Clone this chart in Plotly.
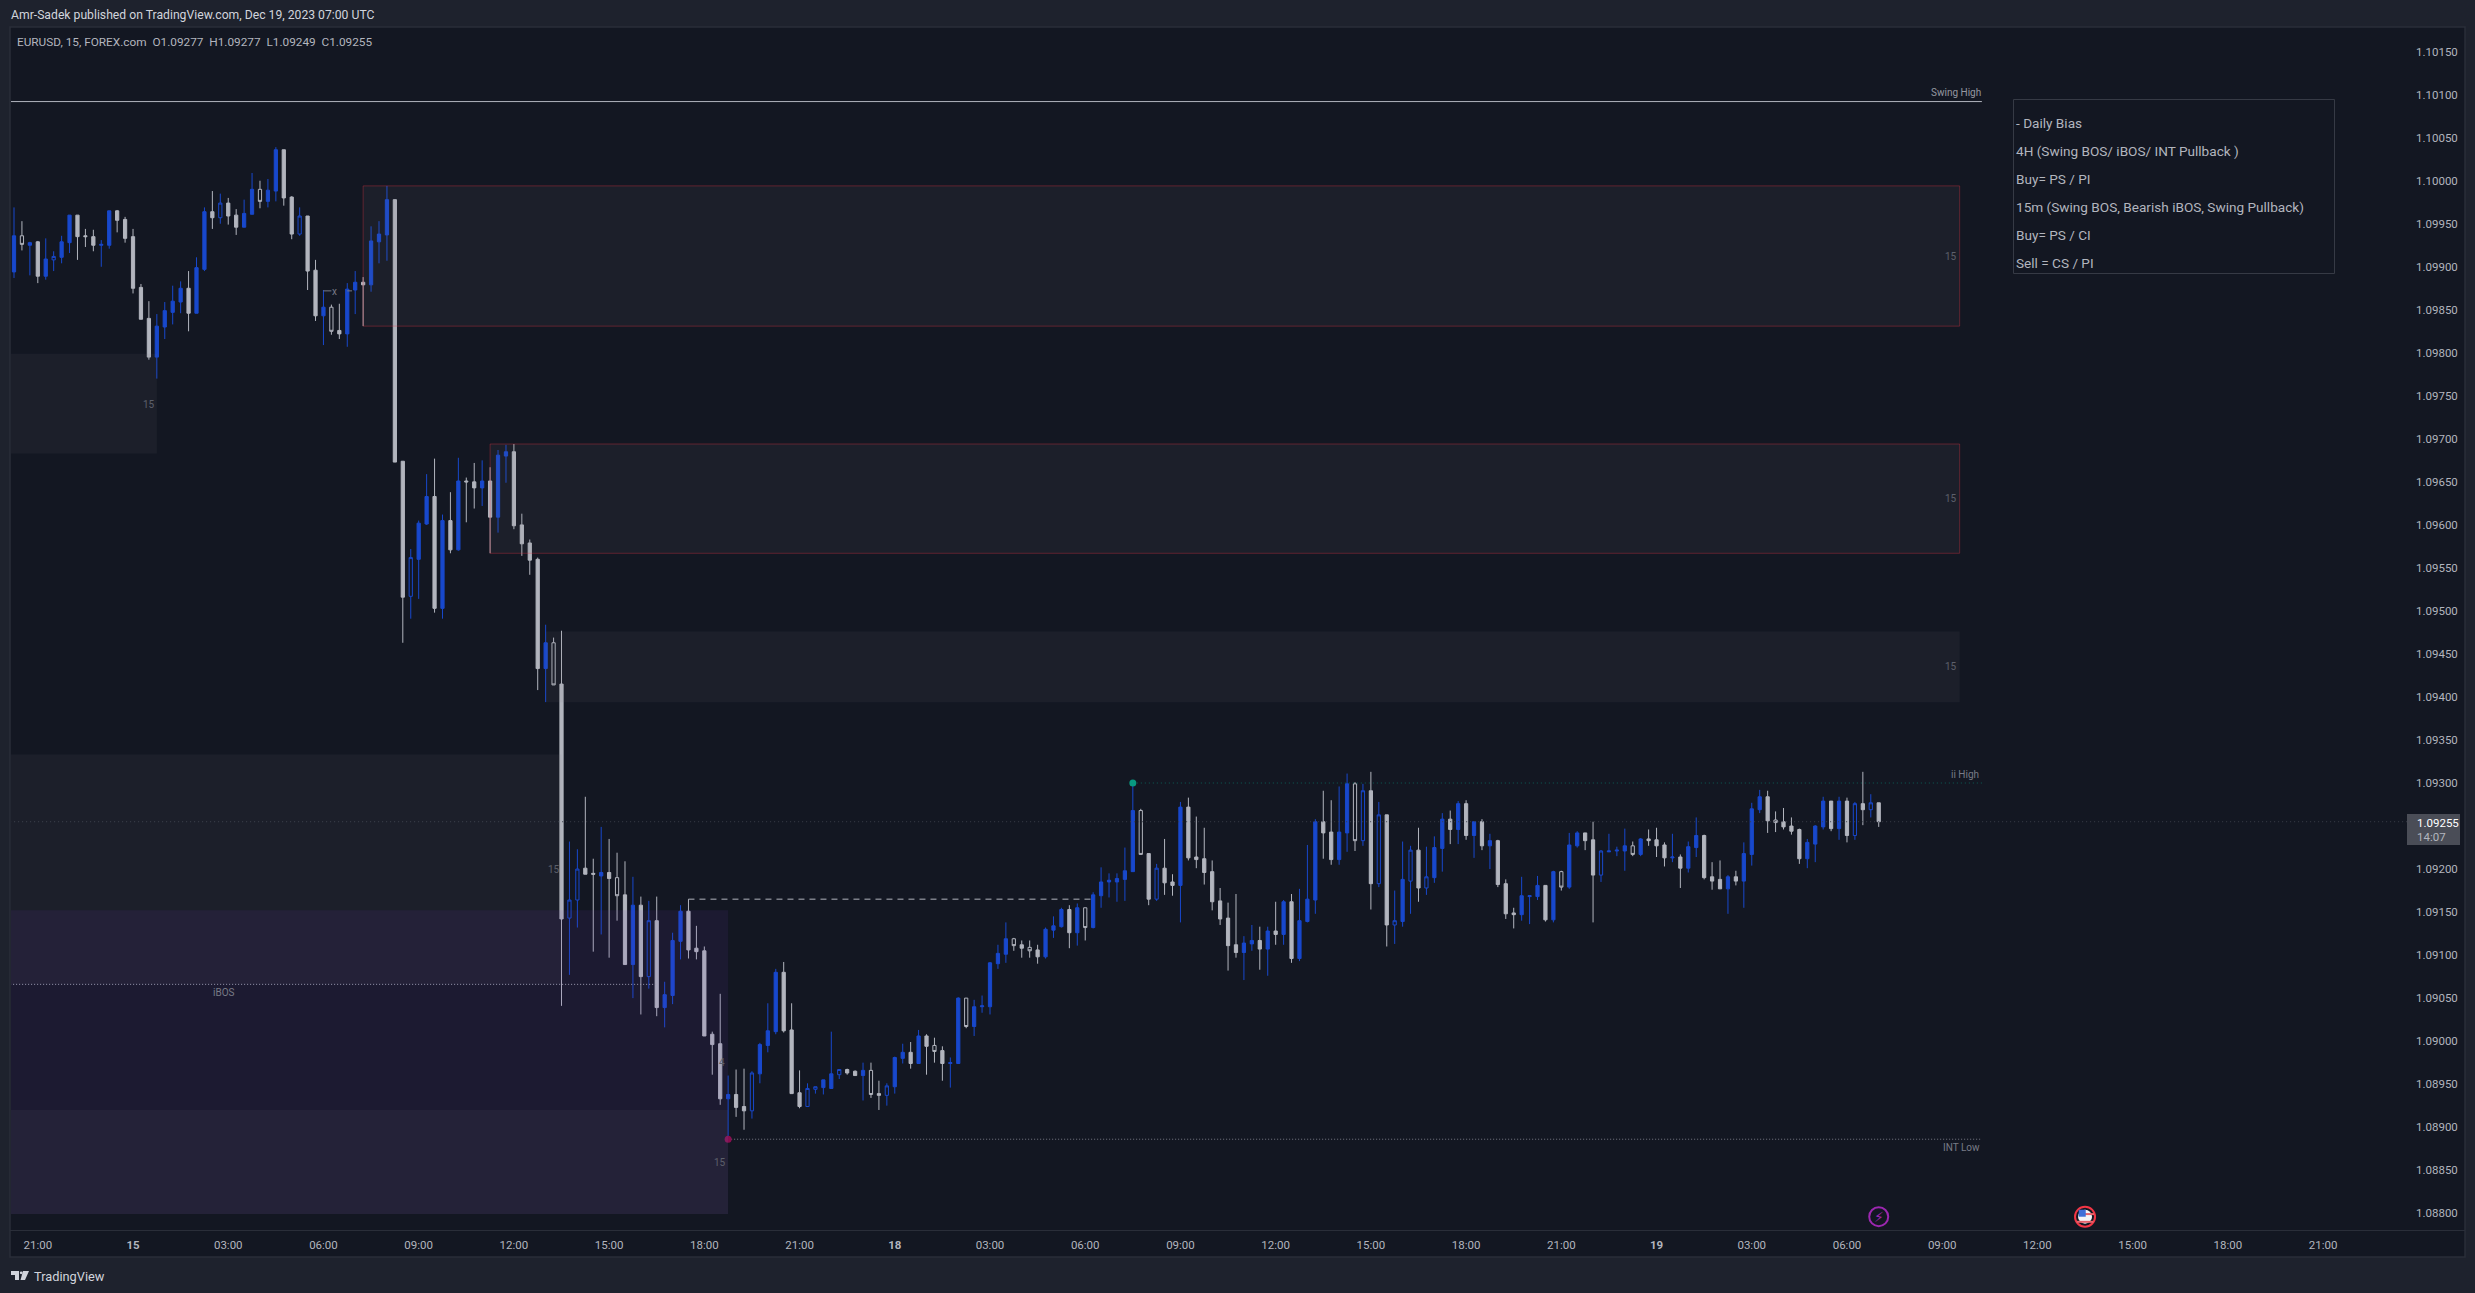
import plotly.graph_objects as go

# ---------- bar series (15-minute EURUSD, oldest first) ----------
open_ = [
1.09894,1.09936,1.09925,1.09929,1.09889,1.09908,1.09911,1.09928,1.09960,1.09936,
1.09935,1.09925,1.09925,1.09965,1.09955,1.09935,1.09876,1.09840,1.09795,1.09830,
1.09847,1.09859,1.09875,1.09846,1.09897,1.09964,1.09957,1.09974,1.09960,1.09946,
1.09961,1.09990,1.09976,1.09988,1.10036,1.09981,1.09938,1.09959,1.09896,1.09843,
1.09853,1.09826,1.09822,1.09873,1.09882,1.09879,1.09929,1.09937,1.09978,1.09674,
1.09517,1.09560,1.09601,1.09633,1.09503,1.09605,1.09571,1.09651,1.09650,1.09643,
1.09651,1.09609,1.09680,1.09685,1.09600,1.09579,1.09560,1.09433,1.09463,1.09415,
1.09143,1.09164,1.09201,1.09195,1.09192,1.09196,1.09190,1.09170,1.09089,1.09158,
1.09075,1.09140,1.09039,1.09053,1.09116,1.09151,1.09108,1.09105,1.09008,1.08997,
1.08933,1.08938,1.08924,1.08919,1.08962,1.08995,1.09011,1.09080,1.09013,1.08940,
1.08924,1.08944,1.08946,1.08945,1.08961,1.08967,1.08965,1.08960,1.08966,1.08939,
1.08937,1.08947,1.08980,1.08987,1.08974,1.09006,1.08995,1.08989,1.08974,1.08974,
1.09050,1.09017,1.09040,1.09040,1.09090,1.09101,1.09119,1.09112,1.09109,1.09106,
1.09098,1.09129,1.09133,1.09153,1.09126,1.09155,1.09132,1.09169,1.09185,1.09185,
1.09188,1.09197,1.09268,1.09218,1.09165,1.09201,1.09185,1.09181,1.09272,1.09214,
1.09212,1.09197,1.09163,1.09143,1.09112,1.09103,1.09113,1.09117,1.09107,1.09128,
1.09124,1.09162,1.09096,1.09139,1.09164,1.09255,1.09243,1.09211,1.09242,1.09299,
1.09233,1.09291,1.09183,1.09263,1.09135,1.09139,1.09186,1.09222,1.09178,1.09190,
1.09224,1.09258,1.09246,1.09276,1.09239,1.09255,1.09227,1.09233,1.09183,1.09149,
1.09147,1.09168,1.09168,1.09181,1.09141,1.09197,1.09179,1.09227,1.09242,1.09234,
1.09193,1.09220,1.09221,1.09221,1.09227,1.09217,1.09235,1.09234,1.09228,1.09213,
1.09214,1.09201,1.09225,1.09239,1.09191,1.09188,1.09177,1.09191,1.09186,1.09217,
1.09269,1.09284,1.09257,1.09255,1.09250,1.09246,1.09212,1.09229,1.09249,1.09279,
1.09247,1.09279,1.09239,1.09276,1.09269,1.09277]
high = [
1.09969,1.09953,1.09929,1.09930,1.09933,1.09918,1.09936,1.09960,1.09960,1.09944,
1.09943,1.09931,1.09965,1.09966,1.09958,1.09944,1.09880,1.09860,1.09845,1.09859,
1.09878,1.09883,1.09895,1.09911,1.09969,1.09988,1.09985,1.09980,1.09967,1.09978,
1.10009,1.10000,1.10002,1.10039,1.10036,1.09982,1.09969,1.09959,1.09908,1.09873,
1.09856,1.09857,1.09881,1.09895,1.09888,1.09947,1.09953,1.09994,1.09978,1.09674,
1.09572,1.09605,1.09659,1.09677,1.09612,1.09638,1.09678,1.09655,1.09672,1.09675,
1.09667,1.09687,1.09693,1.09694,1.09613,1.09583,1.09562,1.09484,1.09469,1.09477,
1.09232,1.09223,1.09284,1.09212,1.09249,1.09235,1.09219,1.09209,1.09191,1.09168,
1.09163,1.09168,1.09069,1.09126,1.09158,1.09165,1.09134,1.09110,1.09011,1.09055,
1.08960,1.08967,1.08968,1.08965,1.08998,1.09044,1.09084,1.09092,1.09044,1.08966,
1.08951,1.08947,1.08955,1.09011,1.08967,1.08968,1.08966,1.08975,1.08975,1.08954,
1.08951,1.08982,1.08997,1.08999,1.09013,1.09008,1.09004,1.08994,1.08981,1.09051,
1.09050,1.09048,1.09053,1.09092,1.09112,1.09138,1.09120,1.09117,1.09117,1.09112,
1.09132,1.09145,1.09155,1.09158,1.09160,1.09155,1.09173,1.09202,1.09195,1.09195,
1.09225,1.09299,1.09270,1.09218,1.09206,1.09235,1.09194,1.09278,1.09283,1.09261,
1.09248,1.09210,1.09178,1.09161,1.09171,1.09122,1.09135,1.09133,1.09133,1.09162,
1.09164,1.09171,1.09177,1.09228,1.09258,1.09291,1.09280,1.09296,1.09311,1.09301,
1.09299,1.09313,1.09278,1.09263,1.09175,1.09232,1.09227,1.09248,1.09226,1.09238,
1.09265,1.09268,1.09279,1.09280,1.09255,1.09258,1.09241,1.09234,1.09188,1.09155,
1.09191,1.09169,1.09192,1.09181,1.09198,1.09198,1.09242,1.09244,1.09242,1.09255,
1.09222,1.09241,1.09226,1.09247,1.09232,1.09236,1.09246,1.09248,1.09231,1.09241,
1.09217,1.09232,1.09260,1.09240,1.09208,1.09210,1.09193,1.09198,1.09231,1.09277,
1.09292,1.09291,1.09267,1.09271,1.09260,1.09247,1.09235,1.09251,1.09284,1.09279,
1.09284,1.09283,1.09278,1.09313,1.09287,1.09277]
low = [
1.09887,1.09919,1.09890,1.09881,1.09885,1.09895,1.09904,1.09916,1.09908,1.09923,
1.09918,1.09900,1.09921,1.09940,1.09928,1.09869,1.09839,1.09792,1.09770,1.09816,
1.09833,1.09846,1.09825,1.09846,1.09895,1.09944,1.09950,1.09949,1.09937,1.09946,
1.09961,1.09968,1.09969,1.09976,1.09971,1.09932,1.09936,1.09873,1.09837,1.09809,
1.09821,1.09816,1.09807,1.09845,1.09831,1.09871,1.09904,1.09907,1.09673,1.09463,
1.09491,1.09514,1.09600,1.09498,1.09491,1.09567,1.09570,1.09603,1.09619,1.09622,
1.09567,1.09591,1.09649,1.09595,1.09564,1.09542,1.09408,1.09394,1.09414,1.09041,
1.09077,1.09132,1.09194,1.09104,1.09124,1.09097,1.09140,1.09089,1.09050,1.09031,
1.09061,1.09029,1.09016,1.09043,1.09095,1.09096,1.09095,1.09006,1.08961,1.08926,
1.08887,1.08912,1.08897,1.08910,1.08951,1.08987,1.09008,1.09010,1.08939,1.08922,
1.08924,1.08939,1.08938,1.08945,1.08956,1.08961,1.08960,1.08931,1.08934,1.08920,
1.08925,1.08939,1.08974,1.08968,1.08974,1.08961,1.08975,1.08954,1.08946,1.08974,
1.09015,1.09006,1.09033,1.09031,1.09084,1.09091,1.09105,1.09097,1.09097,1.09090,
1.09096,1.09120,1.09132,1.09108,1.09111,1.09117,1.09131,1.09155,1.09167,1.09162,
1.09163,1.09197,1.09217,1.09158,1.09163,1.09170,1.09169,1.09138,1.09210,1.09201,
1.09182,1.09152,1.09135,1.09082,1.09097,1.09071,1.09105,1.09083,1.09076,1.09112,
1.09112,1.09091,1.09093,1.09138,1.09148,1.09212,1.09205,1.09205,1.09220,1.09221,
1.09227,1.09153,1.09179,1.09110,1.09113,1.09133,1.09148,1.09162,1.09170,1.09184,
1.09197,1.09229,1.09229,1.09234,1.09213,1.09222,1.09200,1.09179,1.09142,1.09131,
1.09140,1.09136,1.09164,1.09139,1.09138,1.09175,1.09177,1.09225,1.09222,1.09138,
1.09185,1.09220,1.09215,1.09198,1.09215,1.09215,1.09227,1.09214,1.09203,1.09208,
1.09178,1.09196,1.09214,1.09188,1.09176,1.09177,1.09148,1.09181,1.09155,1.09204,
1.09265,1.09242,1.09243,1.09246,1.09240,1.09206,1.09201,1.09208,1.09246,1.09244,
1.09234,1.09231,1.09234,1.09251,1.09260,1.09249]
close = [
1.09936,1.09926,1.09928,1.09889,1.09909,1.09912,1.09929,1.09960,1.09935,1.09935,
1.09925,1.09926,1.09965,1.09954,1.09933,1.09875,1.09839,1.09795,1.09831,1.09849,
1.09860,1.09875,1.09846,1.09899,1.09964,1.09957,1.09974,1.09959,1.09946,1.09962,
1.09990,1.09976,1.09989,1.10036,1.09980,1.09938,1.09959,1.09895,1.09843,1.09853,
1.09825,1.09822,1.09874,1.09882,1.09879,1.09930,1.09938,1.09978,1.09673,1.09516,
1.09562,1.09602,1.09633,1.09503,1.09605,1.09571,1.09651,1.09650,1.09643,1.09651,
1.09609,1.09681,1.09685,1.09599,1.09578,1.09559,1.09433,1.09463,1.09414,1.09142,
1.09164,1.09200,1.09194,1.09194,1.09196,1.09189,1.09169,1.09089,1.09158,1.09075,
1.09140,1.09039,1.09054,1.09117,1.09151,1.09106,1.09104,1.09006,1.08996,1.08933,
1.08938,1.08923,1.08919,1.08963,1.08996,1.09012,1.09080,1.09012,1.08939,1.08924,
1.08945,1.08947,1.08955,1.08962,1.08967,1.08963,1.08960,1.08966,1.08938,1.08937,
1.08948,1.08981,1.08987,1.08974,1.09006,1.08994,1.08988,1.08974,1.08975,1.09050,
1.09017,1.09040,1.09041,1.09091,1.09102,1.09119,1.09111,1.09108,1.09105,1.09098,
1.09130,1.09134,1.09153,1.09126,1.09155,1.09132,1.09170,1.09185,1.09187,1.09189,
1.09198,1.09268,1.09217,1.09165,1.09201,1.09184,1.09181,1.09272,1.09213,1.09211,
1.09196,1.09162,1.09142,1.09111,1.09103,1.09114,1.09117,1.09107,1.09128,1.09124,
1.09162,1.09096,1.09140,1.09165,1.09255,1.09242,1.09211,1.09243,1.09299,1.09233,
1.09291,1.09183,1.09263,1.09135,1.09140,1.09188,1.09222,1.09178,1.09191,1.09225,
1.09258,1.09246,1.09276,1.09239,1.09255,1.09227,1.09233,1.09182,1.09148,1.09147,
1.09169,1.09169,1.09181,1.09141,1.09197,1.09179,1.09228,1.09242,1.09233,1.09193,
1.09221,1.09221,1.09222,1.09227,1.09217,1.09235,1.09233,1.09227,1.09213,1.09214,
1.09201,1.09226,1.09239,1.09190,1.09186,1.09177,1.09191,1.09186,1.09218,1.09270,
1.09284,1.09256,1.09254,1.09249,1.09244,1.09212,1.09231,1.09250,1.09279,1.09247,
1.09279,1.09239,1.09276,1.09269,1.09277,1.09255]
hollow_bars = [1,5,26,31,36,40,50,68,70,71,76,80,93,100,101,104,108,110,116,120,126,128,
               135,142,144,169,170,172,174,176,178,195,200,204,222,232,234]
first_bar = -3

# ---------- axis labels ----------
time_ticks = ["21:00","<b>15</b>","03:00","06:00","09:00","12:00","15:00","18:00","21:00",
              "<b>18</b>","03:00","06:00","09:00","12:00","15:00","18:00","21:00",
              "<b>19</b>","03:00","06:00","09:00","12:00","15:00","18:00","21:00"]
price_ticks = [1.088 + 0.0005 * n for n in range(28)]

# ---------- zones (bar index from/to, price top/bottom) ----------
zone_from   = [41, 57, 64, -5, -5, -5, -5]
zone_to     = [242.2, 242.2, 242.2, 15, 66, 87, 87]
zone_top    = [1.09994, 1.09694, 1.09476, 1.09799, 1.09333, 1.09152, 1.08920]
zone_bottom = [1.09831, 1.09567, 1.09394, 1.09683, 1.09066, 1.08799, 1.08799]
zone_kind   = ["red", "red", "gray", "gray", "gray", "purple", "gray"]

# ---------- levels ----------
swing_high = 1.10092
ii_high = 1.09300
int_low = 1.08886
ibos = 1.09066
dashed_level = 1.09165
x_level = 1.09872
last_price = 1.09255

table_lines = ["- Daily Bias", "4H (Swing BOS/ iBOS/ INT Pullback )", "Buy= PS / PI",
               "15m (Swing BOS, Bearish iBOS, Swing Pullback)", "Buy= PS / CI", "Sell = CS / PI"]

# ---------- page geometry (decoration only) ----------
W, H = 2475, 1293
L, R, T, B = 11, 2407, 28, 1230
BG, PANEL, EDGE = "#1e222d", "#131722", "#2a2e39"
BLUE, GRAY, TXT = "#1848cc", "#b2b5be", "#b2b5be"
FONT = "Roboto"
def px(x): return (x - L) / (R - L)
def py(y): return (B - y) / (B - T)

x_all = list(range(first_bar, first_bar + len(open_)))
hs = set(hollow_bars)

def pick(values, want_hollow):
    return [v if ((i in hs) == want_hollow) else None for i, v in enumerate(values)]

fig = go.Figure()
for want_hollow in (False, True):
    fill_up = "rgba(0,0,0,0)" if want_hollow else BLUE
    fill_dn = "rgba(0,0,0,0)" if want_hollow else GRAY
    fig.add_trace(go.Candlestick(
        x=x_all, open=pick(open_, want_hollow), high=pick(high, want_hollow),
        low=pick(low, want_hollow), close=pick(close, want_hollow),
        increasing=dict(line=dict(color=BLUE, width=1), fillcolor=fill_up),
        decreasing=dict(line=dict(color=GRAY, width=1), fillcolor=fill_dn),
        whiskerwidth=0, showlegend=False, hoverinfo="skip"))

def level(x0, x1, y, color, dash, width=1):
    fig.add_trace(go.Scatter(x=[x0, x1], y=[y, y], mode="lines", showlegend=False, hoverinfo="skip",
                             line=dict(color=color, width=width, dash=dash)))

level(-5, 300, last_price, "#3b3f4b", "1px,3px")
level(-5, 245, swing_high, "#b2b5be", "solid")
level(138, 245, ii_high, "rgba(8,153,129,0.55)", "1px,3px")
level(87, 245, int_low, "#787b86", "1px,2px")
level(-5, 78, ibos, "#a5a8b2", "1px,2px")
level(82, 133, dashed_level, "#b2b5be", "6px,5px")
level(36, 37, x_level, "#787b86", "solid")
level(39, 39.6, x_level, "#787b86", "solid")

def dot(x, y, color, size=7, symbol="circle", lw=0, lc=None):
    fig.add_trace(go.Scatter(x=[x], y=[y], mode="markers", showlegend=False, hoverinfo="skip",
                             marker=dict(color=color, size=size, symbol=symbol,
                                         line=dict(width=lw, color=lc or color))))
dot(138, ii_high, "#089981")
dot(87, int_low, "#880e4f")
# calendar event icons on the time scale
ev_y = 1.08796
dot(232, ev_y, "#9c27b0", size=19, symbol="circle-open", lw=2)
dot(258, ev_y, "#f23645", size=20, symbol="circle-open", lw=2)
dot(258, ev_y, "#f4f4f6", size=14)
dot(258.25, ev_y + 0.00003, "#e5636b", size=10, symbol="line-ew-open", lw=2)
dot(258, ev_y - 0.00006, "#e5636b", size=12, symbol="line-ew-open", lw=2)
dot(257.65, ev_y + 0.00004, "#3f6fd8", size=7, symbol="square")

shapes = [dict(type="rect", xref="paper", yref="paper", layer="below",
               x0=px(10), x1=px(2465), y0=py(1257), y1=py(27),
               fillcolor=PANEL, line=dict(color=EDGE, width=1.5)),
          dict(type="line", xref="paper", yref="paper", layer="below",
               x0=px(10), x1=px(2465), y0=py(1230.5), y1=py(1230.5), line=dict(color=EDGE, width=1))]
fills = {"red": "rgba(120,123,134,0.09)", "gray": "rgba(120,123,134,0.09)", "purple": "rgba(103,58,183,0.10)"}
for x0, x1, y1, y0, kind in zip(zone_from, zone_to, zone_top, zone_bottom, zone_kind):
    shapes.append(dict(type="rect", xref="x", yref="y", layer="above", x0=x0, x1=x1, y0=y0, y1=y1,
                       fillcolor=fills[kind],
                       line=dict(color="rgba(242,54,69,0.33)", width=1) if kind == "red" else dict(width=0)))
# table frame + last price tag
shapes.append(dict(type="rect", xref="paper", yref="paper", layer="above",
                   x0=px(2013.5), x1=px(2334.5), y0=py(273.5), y1=py(99.5),
                   line=dict(color="#363a45", width=1)))
shapes.append(dict(type="rect", xref="paper", yref="paper", layer="above",
                   x0=px(2407), x1=px(2460), y0=py(845), y1=py(814),
                   fillcolor="#4a4d57", line=dict(width=0)))
# TradingView logo
shapes.append(dict(type="path", xref="paper", yref="paper", layer="above", xsizemode="pixel", ysizemode="pixel",
                   xanchor=px(11), yanchor=py(1271),
                   path="M 0 0 L 8 0 L 8 -9 L 4 -9 L 4 -4 L 0 -4 Z M 12 0 L 18 0 L 14 -9 L 9.5 -9 Z",
                   fillcolor="#d1d4dc", line=dict(width=0)))
shapes.append(dict(type="circle", xref="paper", yref="paper", layer="above",
                   x0=px(19.8), x1=px(22.6), y0=py(1274.2), y1=py(1271.4),
                   fillcolor="#d1d4dc", line=dict(width=0)))

def note(x, y, text, size=12, color=TXT, anchor="left", font=FONT):
    return dict(xref="paper", yref="paper", x=px(x), y=py(y), text=text, showarrow=False,
                xanchor=anchor, yanchor="middle", xshift=0,
                font=dict(family=font, size=size, color=color))

n = "\u00a0"
annotations = [
    note(8.5, 15, "Amr-Sadek published on TradingView.com, Dec 19, 2023 07:00 UTC", 12.2, "#d1d4dc"),
    note(15, 42, f"EURUSD, 15, FOREX.com{n}{n}O1.09277{n}{n}H1.09277{n}{n}L1.09249{n}{n}C1.09255", 11.8, TXT),
    note(31.5, 1276, "TradingView", 12.8, "#d1d4dc"),
    note(1956, 92.7, "Swing High", 10, "#9598a1", "center"),
    note(1965, 774.3, "ii High", 10, "#787b86", "center"),
    note(1961, 1147, "INT Low", 10, "#787b86", "center"),
    note(224, 992.7, "iBOS", 10, "#787b86", "center"),
    note(335, 291, "x", 10, "#787b86", "center"),
    note(149, 404, "15", 10, "#5d606b", "center"),
    note(1951, 256.7, "15", 10, "#5d606b", "center"),
    note(1951, 498, "15", 10, "#5d606b", "center"),
    note(1951, 666, "15", 10, "#5d606b", "center"),
    note(554, 869, "15", 10, "#5d606b", "center"),
    note(722, 1062, "4", 10, "#5d606b", "center"),
    note(720, 1162, "15", 10, "#5d606b", "center"),
    note(2415, 822.7, "1.09255", 11.5, "#ffffff"),
    note(2415, 836.7, "14:07", 11.5, "#b2b5be"),
    note(1879, 1217, "\u26a1", 14, "#9c27b0", "center", "DejaVu Sans"),
]
line_y = [123.3, 151.3, 179.3, 207.3, 235.3, 263.0]
for t, y in zip(table_lines, line_y):
    annotations.append(note(2014, y, t, 13.6, TXT))

fig.update_layout(
    width=W, height=H, autosize=False,
    paper_bgcolor=BG, plot_bgcolor="rgba(0,0,0,0)",
    margin=dict(l=L, r=W - R, t=T, b=H - B, pad=0),
    boxgap=0.42, showlegend=False, hovermode=False, dragmode=False,
    shapes=shapes, annotations=annotations,
    font=dict(family=FONT, color=TXT),
    xaxis=dict(domain=[0, 1], range=[(L - 37.8) / 7.935, (R - 37.8) / 7.935],
               tickmode="array", tickvals=[12 * j for j in range(len(time_ticks))], ticktext=time_ticks,
               ticks="", showgrid=False, zeroline=False, showline=False,
               tickfont=dict(family=FONT, size=11.5, color=TXT), ticklabelstandoff=6,
               rangeslider=dict(visible=False)),
    yaxis=dict(side="right", range=[1.087805, 1.101775], tickmode="array", tickvals=price_ticks,
               tickformat=".5f", ticks="", showgrid=False, zeroline=False, showline=False,
               tickfont=dict(family=FONT, size=11.5, color=TXT), ticklabelstandoff=8),
)
fig.write_html("out.html", config={"displayModeBar": False},
               post_script="document.body.style.margin='0';document.body.style.overflow='hidden';")
